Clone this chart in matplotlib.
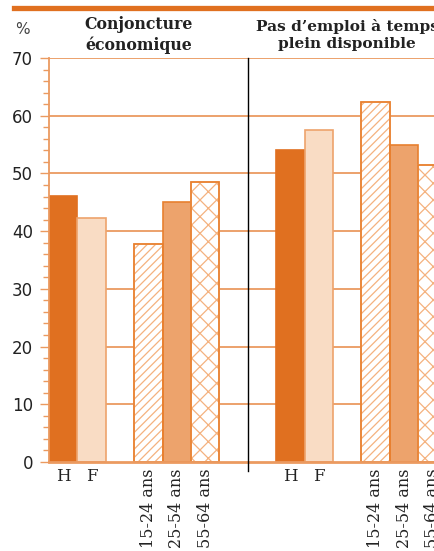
import matplotlib
matplotlib.use("Agg")
import matplotlib.pyplot as plt
from matplotlib.transforms import blended_transform_factory
import numpy as np

plt.rcParams['hatch.linewidth'] = 0.9

groups = ["Conjoncture\néconomique", "Pas d\u2019emploi à temps\nplein disponible"]
sex_labels = ["H", "F"]
age_labels = ["15-24 ans", "25-54 ans", "55-64 ans"]
sex_values = [[46.1, 42.3], [54.1, 57.6]]
age_values = [[37.8, 45.1, 48.5], [62.3, 54.9, 51.5]]
y_ticks = [0, 10, 20, 30, 40, 50, 60, 70]

W, H = 435, 551
fig = plt.figure(figsize=(W / 100, H / 100), dpi=100)
ax = fig.add_axes([49 / W, (H - 462) / H, (W - 49) / W, (462 - 58) / H])

ORANGE = '#e07020'
EDGE = '#e8802f'
PEACH = '#f9dcc4'
MID = '#eda36c'
GRID = '#eb9a60'
HATCHC = '#f4b27f'

serif = 'DejaVu Serif'

sex_styles = [dict(color=ORANGE, edgecolor=ORANGE), dict(color=PEACH, edgecolor='#eda36c')]
age_styles = [dict(color='white', edgecolor=EDGE, hatch='////'),
              dict(color=MID, edgecolor=EDGE),
              dict(color='white', edgecolor=EDGE, hatch='xx')]

group_offsets = [0, 8]
for g, off in enumerate(group_offsets):
    for i, v in enumerate(sex_values[g]):
        ax.bar(off + i, v, width=1.0, linewidth=1.2, zorder=3, **sex_styles[i])
    for i, v in enumerate(age_values[g]):
        st = dict(age_styles[i])
        if 'hatch' in st:
            ax.bar(off + 3 + i, v, width=1.0, linewidth=1.2, zorder=3,
                   color='white', edgecolor=HATCHC, hatch=st['hatch'])
            ax.bar(off + 3 + i, v, width=1.0, linewidth=1.2, zorder=4,
                   fill=False, edgecolor=EDGE)
        else:
            ax.bar(off + 3 + i, v, width=1.0, linewidth=1.2, zorder=3, **st)

ax.set_xlim(-0.5, 13.09)
ax.set_ylim(0, 70)
ax.set_yticks(y_ticks)
ax.set_yticks(np.arange(0, 70, 2), minor=True)
ax.set_yticklabels([str(t) for t in y_ticks], fontsize=12, color='#222222')
ax.tick_params(axis='y', which='major', length=6.5, width=1, color=GRID, pad=5)
ax.tick_params(axis='y', which='minor', length=4.3, width=1, color=GRID)
ax.set_xticks([])
for t in y_ticks[1:]:
    ax.axhline(t, color=GRID, linewidth=1.3, zorder=1)
for s in ['top', 'right']:
    ax.spines[s].set_visible(False)
ax.spines['left'].set_color(GRID)
ax.spines['left'].set_linewidth(1.3)
ax.spines['bottom'].set_color(GRID)
ax.spines['bottom'].set_linewidth(2)
ax.spines['left'].set_zorder(5)
ax.spines['bottom'].set_zorder(5)

# separator
ax.plot([6.5, 6.5], [70, -1.6], color='black', linewidth=1, clip_on=False, zorder=6)

trans = blended_transform_factory(ax.transData, fig.transFigure)
for g, off in enumerate(group_offsets):
    for i, lab in enumerate(sex_labels):
        ax.text(off + i, 1 - 468 / H, lab, transform=trans, ha='center', va='top',
                fontsize=12, family=serif, color='#222222')
    for i, lab in enumerate(age_labels):
        ax.text(off + 3 + i, 1 - 468 / H, lab, transform=trans, ha='center', va='top',
                rotation=90, fontsize=11.5, family=serif, color='#222222')

# group titles
fig.text(139 / W, 1 - 35 / H, groups[0], ha='center', va='center', fontsize=11.3,
         fontweight='bold', family=serif, color='#222222', linespacing=1.3)
fig.text(347 / W, 1 - 35 / H, groups[1], ha='center', va='center', fontsize=11.1,
         fontweight='bold', family=serif, color='#222222', linespacing=1.3)

fig.text(22 / W, 1 - 29 / H, "%", ha='center', va='center', fontsize=11, color='#444444')

# top rule
fig.add_artist(plt.Line2D([14 / W, 1], [1 - 7.5 / H, 1 - 7.5 / H], color=ORANGE,
                          linewidth=3.8, transform=fig.transFigure))

fig.savefig("out.png", dpi=100)
